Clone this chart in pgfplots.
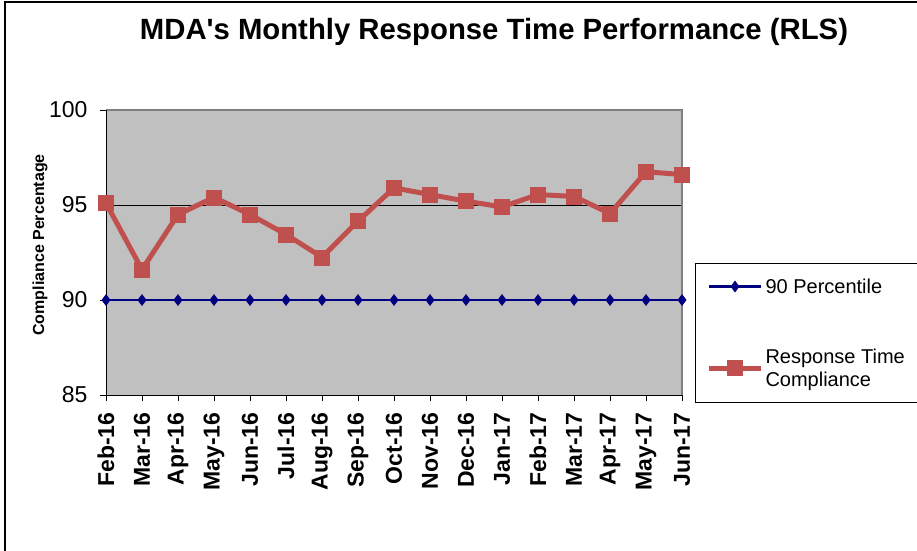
\documentclass[border=0pt]{standalone}
\usepackage{pgfplots}
\pgfplotsset{compat=1.18}
\usepackage{fontspec}
\setmainfont{Liberation Sans}
\definecolor{plotgray}{HTML}{C0C0C0}
\definecolor{bordergray}{HTML}{808080}
\definecolor{navyline}{HTML}{000080}
\definecolor{redline}{HTML}{C0504D}
\begin{document}
\begin{tikzpicture}[x=1pt,y=1pt]
\begin{axis}[
  at={(106pt,155pt)}, anchor=south west,
  scale only axis, width=576pt, height=285pt,
  xmin=0, xmax=16, ymin=85, ymax=100,
  xtick={0,...,16},
  xticklabels={Feb-16,Mar-16,Apr-16,May-16,Jun-16,Jul-16,Aug-16,Sep-16,Oct-16,Nov-16,Dec-16,Jan-17,Feb-17,Mar-17,Apr-17,May-17,Jun-17},
  x tick label style={rotate=90, anchor=east, font=\fontsize{23}{26}\selectfont\bfseries},
  ytick={85,90,95,100},
  y tick label style={font=\fontsize{23}{26}\selectfont},
  /pgf/number format/assume math mode=true,
  xtick pos=lower, ytick pos=left,
  tick align=outside, major tick length=6pt,
  tick style={black, line width=1pt},
  xticklabel shift=8pt, yticklabel shift=9pt,
  ymajorgrids, major grid style={black, line width=0.9pt},
  axis background/.style={fill=plotgray},
  axis line style={draw=none},
  clip=false,
  legend style={at={(1,0.463)}, anchor=north west, xshift=13pt,
    draw=black, line width=1pt, fill=white,
    font=\fontsize{20}{23}\selectfont,
    cells={anchor=west, align=left},
    row sep=50pt, inner xsep=11pt, inner ysep=13pt},
  legend cell align=left,
  legend image code/.code={\draw[mark repeat=2,mark phase=2] plot coordinates {(0pt,0pt)(26pt,0pt)(52pt,0pt)};},
]
\draw[bordergray, line width=2.5pt] (axis cs:0,100) -- (axis cs:16,100) -- (axis cs:16,85);
\draw[black, line width=1pt] (axis cs:0,100) -- (axis cs:0,85) -- (axis cs:16,85);
\addplot[navyline, line width=2.5pt, mark=diamond*, mark size=5.5pt, mark options={solid, fill=navyline, draw=navyline, line width=0.5pt}]
  coordinates {(0,90)(1,90)(2,90)(3,90)(4,90)(5,90)(6,90)(7,90)(8,90)(9,90)(10,90)(11,90)(12,90)(13,90)(14,90)(15,90)(16,90)};
\addlegendentry{90 Percentile}
\addplot[redline, line width=5pt, mark=square*, mark size=7.5pt, mark options={solid, fill=redline, draw=redline, line width=0.5pt}]
  coordinates {(0,95.1)(1,91.6)(2,94.5)(3,95.4)(4,94.5)(5,93.45)(6,92.25)(7,94.15)(8,95.9)(9,95.55)(10,95.2)(11,94.9)(12,95.55)(13,95.45)(14,94.55)(15,96.75)(16,96.6)};
\addlegendentry{Response Time\\Compliance}
\end{axis}
\node[font=\fontsize{29.3}{32}\selectfont\bfseries] at (494,518) {MDA\textquotesingle s Monthly Response Time Performance (RLS)};
\node[font=\fontsize{16}{18}\selectfont\bfseries, rotate=90] at (40,305) {Compliance Percentage};
\draw[black, line width=1.5pt] (5,-20) -- (5,548) -- (940,548);
\pgfresetboundingbox
\path[use as bounding box] (0,0) rectangle (917,550);
\end{tikzpicture}
\end{document}
